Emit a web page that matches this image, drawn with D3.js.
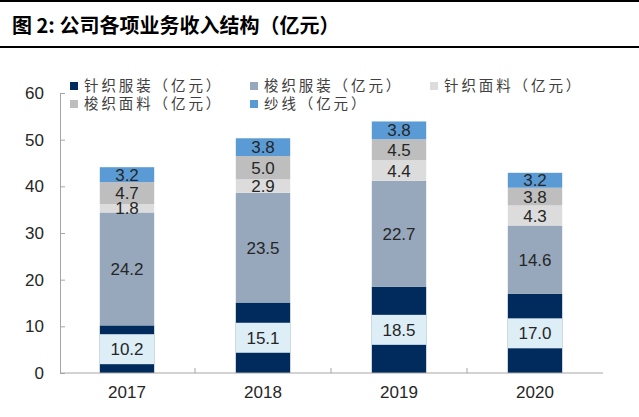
<!DOCTYPE html>
<html><head><meta charset="utf-8">
<script src="https://cdn.jsdelivr.net/npm/d3@7"></script>
<style>body{margin:0;background:#fff}</style>
</head><body>
<svg id="c" width="639" height="417"></svg>
<script>
const years = ["2017","2018","2019","2020"];
const seriesNames = ["针织服装（亿元）","梭织服装（亿元）","针织面料（亿元）","梭织面料（亿元）","纱线（亿元）"];
const knitApparel = [10.2, 15.1, 18.5, 17.0];
const wovenApparel = [24.2, 23.5, 22.7, 14.6];
const knitFabric = [1.8, 2.9, 4.4, 4.3];
const wovenFabric = [4.7, 5.0, 4.5, 3.8];
const yarn = [3.2, 3.8, 3.8, 3.2];
const yTicks = [0,10,20,30,40,50,60];
const colors = ["#002B5C","#97A8BC","#DCDCDC","#BEBEBE","#5B9BD5"];

const seriesVals = [knitApparel, wovenApparel, knitFabric, wovenFabric, yarn];
const rows = years.map((y,i)=>{const o={year:y}; seriesNames.forEach((n,k)=>o[n]=seriesVals[k][i]); return o;});

const svg = d3.select("#c");
// title
svg.append("rect").attr("x",0).attr("y",0).attr("width",639).attr("height",2).attr("fill","#000");
svg.append("rect").attr("x",0).attr("y",46).attr("width",639).attr("height",2).attr("fill","#000");
svg.append("text").attr("x",12).attr("y",33).attr("font-family","'Noto Sans CJK SC'").attr("font-weight","bold")
  .attr("font-size",20).attr("fill","#000").text("图 2:  公司各项业务收入结构（亿元）");

const x = d3.scaleBand().domain(years).range([59,603]).paddingInner(0.6).paddingOuter(0.3);
const y = d3.scaleLinear().domain([0,60]).range([373,93]);

const stack = d3.stack().keys(seriesNames)(rows);
const g = svg.append("g");
stack.forEach((s,k)=>{
  g.selectAll(null).data(s).enter().append("rect")
    .attr("x",d=>x(d.data.year)).attr("width",x.bandwidth())
    .attr("y",d=>y(d[1])).attr("height",d=>y(d[0])-y(d[1]))
    .attr("fill",colors[k]);
});
// label boxes for first series
stack[0].forEach(d=>{
  const cy=(y(d[0])+y(d[1]))/2;
  g.append("rect").attr("x",x(d.data.year)).attr("width",x.bandwidth()).attr("y",cy-15).attr("height",30).attr("fill","#DDEEF7");
});
stack.forEach((s,k)=>{
  g.selectAll(null).data(s).enter().append("text")
    .attr("x",d=>x(d.data.year)+x.bandwidth()/2)
    .attr("y",d=>(y(d[0])+y(d[1]))/2).attr("dy","0.36em")
    .attr("text-anchor","middle").attr("font-family","'Liberation Sans',Arial").attr("font-size",17)
    .attr("fill","#262626").text(d=>(d[1]-d[0]).toFixed(1));
});

// axes
const ya = svg.append("g").attr("transform","translate(60,0)")
  .call(d3.axisLeft(y).tickValues(yTicks).tickSizeInner(-5).tickSizeOuter(0).tickPadding(16));
ya.select(".domain").attr("stroke","#A6A6A6");
ya.selectAll(".tick line").attr("stroke","#A6A6A6");
ya.selectAll("text").attr("font-family","'Liberation Sans',Arial").attr("font-size",17).attr("fill","#262626");

const xa = svg.append("g").attr("transform","translate(0,373)")
  .call(d3.axisBottom(x).tickSize(0).tickPadding(13));
xa.select(".domain").attr("stroke","#A6A6A6").attr("d","M60,0H603");
xa.selectAll("text").attr("font-family","'Liberation Sans',Arial").attr("font-size",17).attr("fill","#262626");
// category separators
years.slice(0,-1).forEach(yr=>{
  const bx = x(yr)+x.bandwidth()/2 + x.step()/2;
  svg.append("line").attr("x1",bx).attr("x2",bx).attr("y1",373).attr("y2",368).attr("stroke","#A6A6A6");
});

// legend
const legPos = [[70,86],[250,86],[430,86],[70,104],[250,104]];
const legOrder = [0,1,2,3,4];
legOrder.forEach((k,i)=>{
  const [lx,ly]=legPos[i];
  svg.append("rect").attr("x",lx).attr("y",ly-4).attr("width",8).attr("height",8).attr("fill",colors[k]);
  svg.append("text").attr("x",lx+14).attr("y",ly).attr("dy","0.36em")
    .attr("font-family","'Noto Sans CJK SC'").attr("font-size",14.5).attr("letter-spacing",2.9)
    .attr("fill","#404040").text(seriesNames[k]);
});
</script>
</body></html>
